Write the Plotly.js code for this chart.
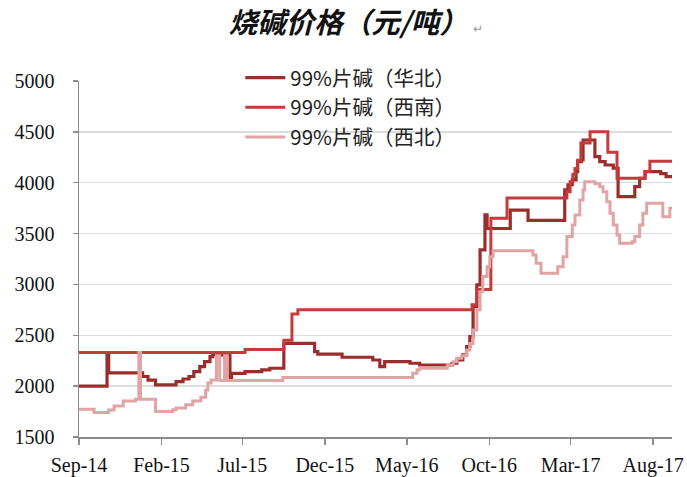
<!DOCTYPE html>
<html>
<head>
<meta charset="utf-8">
<script src="https://cdn.plot.ly/plotly-3.0.1.min.js"></script>
<style>html,body{margin:0;padding:0;background:#fff;}#chart{width:687px;height:477px;}</style>
</head>
<body>
<div id="chart"></div>
<script>
// Series names
const seriesNames = ['99%片碱（华北）', '99%片碱（西南）', '99%片碱（西北）'];

// 华北
const hbDates = ['2014-09-01','2014-10-23','2014-10-26','2014-12-28','2015-01-07','2015-01-21','2015-02-28','2015-03-13','2015-03-24','2015-04-02','2015-04-13','2015-04-22','2015-05-02','2015-05-07','2015-05-16','2015-05-20','2015-06-08','2015-06-11','2015-07-06','2015-08-06','2015-08-21','2015-09-16','2015-11-12','2015-11-18','2016-01-02','2016-02-28','2016-03-12','2016-03-21','2016-05-07','2016-05-25','2016-07-24','2016-08-02','2016-08-13','2016-08-20','2016-08-26','2016-09-01','2016-09-08','2016-09-14','2016-09-23','2016-09-27','2016-11-09','2016-12-12','2017-02-18','2017-02-24','2017-03-04','2017-03-11','2017-03-14','2017-03-21','2017-03-24','2017-04-15','2017-04-24','2017-05-04','2017-05-19','2017-05-28','2017-06-28','2017-07-07','2017-07-17','2017-08-15','2017-08-25','2017-09-05'];
const hbValues = [2000,2320,2130,2095,2060,2012,2045,2070,2095,2143,2192,2241,2290,2310,2325,2305,2080,2126,2143,2160,2176,2420,2340,2315,2284,2257,2192,2241,2225,2208,2225,2257,2307,2388,2486,2781,2995,3339,3683,3550,3730,3630,3930,3980,4027,4110,4207,4225,4420,4256,4207,4174,4142,3863,3961,4044,4109,4090,4060,4060];

// 西南
const xnDates = ['2014-09-01','2015-07-06','2015-09-16','2015-10-01','2015-10-12','2016-08-30','2016-09-08','2016-10-04','2016-11-03','2017-02-22','2017-02-28','2017-03-05','2017-03-09','2017-03-14','2017-03-20','2017-04-06','2017-05-09','2017-05-26','2017-07-17','2017-07-26','2017-09-05'];
const xnValues = [2330,2360,2450,2710,2750,2800,2950,3650,3850,3910,4010,4080,4140,4220,4390,4500,4300,4045,4110,4210,4210];

// 西北
const xbDates = ['2014-09-01','2014-09-29','2014-10-26','2014-11-05','2014-11-22','2014-12-15','2014-12-21','2014-12-24','2015-01-21','2015-02-22','2015-02-28','2015-03-18','2015-03-31','2015-04-15','2015-04-24','2015-04-28','2015-05-04','2015-05-14','2015-05-20','2015-05-29','2015-06-03','2015-09-14','2016-05-12','2016-05-20','2016-05-25','2016-07-15','2016-07-26','2016-08-02','2016-08-11','2016-08-20','2016-08-26','2016-09-01','2016-09-08','2016-09-14','2016-09-19','2016-09-27','2016-10-02','2016-10-08','2016-12-21','2016-12-27','2017-01-05','2017-02-05','2017-02-15','2017-02-22','2017-03-04','2017-03-09','2017-03-18','2017-03-24','2017-03-27','2017-04-15','2017-04-24','2017-04-30','2017-05-07','2017-05-13','2017-05-19','2017-05-26','2017-05-31','2017-06-23','2017-06-28','2017-07-07','2017-07-13','2017-07-20','2017-08-19','2017-09-01','2017-09-05'];
const xbValues = [1773,1740,1765,1805,1854,1870,2330,1870,1750,1767,1784,1817,1854,1890,1963,2030,2061,2300,2055,2300,2055,2085,2127,2160,2176,2208,2241,2274,2300,2356,2420,2553,2750,2929,3077,3175,3273,3330,3290,3208,3110,3175,3273,3470,3584,3683,3830,3929,4010,3990,3960,3912,3814,3700,3584,3486,3404,3420,3470,3584,3700,3798,3666,3749,3749];

// Axis ticks
const xTickVals = ['2014-09-01','2015-02-01','2015-07-01','2015-12-01','2016-05-01','2016-10-01','2017-03-01','2017-08-01'];
const xTickText = ['Sep-14','Feb-15','Jul-15','Dec-15','May-16','Oct-16','Mar-17','Aug-17'];
const yTickVals = [1500,2000,2500,3000,3500,4000,4500,5000];

const colors = ['#9B2D2D', '#C53A3A', '#E0A4A4'];
const widths = [3.2, 3, 3];

const traces = [
  {x: hbDates, y: hbValues, name: seriesNames[0]},
  {x: xnDates, y: xnValues, name: seriesNames[1]},
  {x: xbDates, y: xbValues, name: seriesNames[2]}
].map((t, i) => Object.assign(t, {
  type: 'scatter', mode: 'lines',
  line: {shape: 'hv', color: colors[i], width: widths[i]},
  hoverinfo: 'skip'
}));

const tickFont = {family: '"Liberation Serif", "Times New Roman", serif', size: 20, color: '#111'};

const layout = {
  width: 687, height: 477,
  margin: {l: 79, r: 15, t: 81, b: 40},
  paper_bgcolor: '#fff', plot_bgcolor: '#fff',
  showlegend: true,
  title: {
    text: '<b><i>烧碱价格（元/吨）</i></b><span style="font-size:12px;color:#999">  ↵</span>',
    font: {family: '"Noto Sans CJK SC", sans-serif', size: 28.5, color: '#111'},
    x: 0.518, xref: 'container', xanchor: 'center',
    y: 0.952, yref: 'container', yanchor: 'middle'
  },
  legend: {
    x: 0.272, y: 1.065, xanchor: 'left', yanchor: 'top',
    bgcolor: 'rgba(0,0,0,0)',
    font: {family: '"Noto Sans CJK SC", sans-serif', size: 20.5, color: '#222'},
    tracegroupgap: 0, itemwidth: 40
  },
  xaxis: {
    type: 'date',
    range: ['2014-09-01', '2017-09-05'],
    tickvals: xTickVals, ticktext: xTickText,
    showgrid: false, zeroline: false,
    showline: true, linecolor: '#8c8c8c', linewidth: 1.5,
    ticks: 'outside', ticklen: 6, tickcolor: '#8c8c8c', tickwidth: 1.5,
    ticklabelstandoff: 3,
    tickfont: tickFont
  },
  yaxis: {
    range: [1500, 5000],
    tickvals: yTickVals,
    showgrid: true, gridcolor: '#dcdcdc', gridwidth: 1.5,
    zeroline: false,
    showline: true, linecolor: '#8c8c8c', linewidth: 1.5,
    ticks: 'outside', ticklen: 5, tickcolor: '#8c8c8c', tickwidth: 1.5,
    ticklabelstandoff: 14,
    tickfont: tickFont
  }
};

Plotly.newPlot('chart', traces, layout, {displayModeBar: false, staticPlot: true});
</script>
</body>
</html>
